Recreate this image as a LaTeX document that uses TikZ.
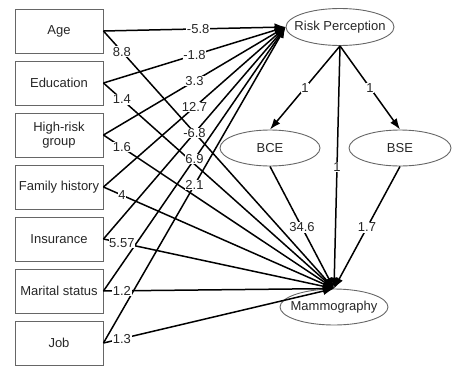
\documentclass[tikz,border=0pt]{standalone}
\usepackage{fontspec}
\setmainfont{Liberation Sans}
\usetikzlibrary{arrows.meta,shapes.geometric}
\begin{document}
\begin{tikzpicture}[x=1pt,y=-1pt,
  txt/.style={font=\fontsize{13}{14}\selectfont,text=black!85},
  box/.style={txt,draw=black!60,line width=0.9pt,minimum width=88pt,minimum height=44pt,inner sep=0pt,align=center},
  lat/.style={txt,draw=black!60,line width=0.9pt,ellipse,inner sep=-12pt},
  conn/.style={line width=1.5pt,-{Latex[length=11pt,width=8pt]}},
  lbl/.style={txt,fill=white,inner sep=0.6pt}
]
\useasboundingbox (0,0) rectangle (452,367);
% observed variables
\node[box] (age) at (59,31) {Age};
\node[box] (edu) at (59,83) {Education};
\node[box] (hr)  at (59,135) {High-risk\\group};
\node[box] (fam) at (59,187) {Family history};
\node[box] (ins) at (59,239) {Insurance};
\node[box] (mar) at (59,291) {Marital status};
\node[box] (job) at (59,343) {Job};
% latent variables
\node[lat,minimum width=108pt,minimum height=37pt] (rp)  at (340,27)  {Risk Perception};
\node[lat,minimum width=100pt,minimum height=36pt] (bce) at (270,148) {BCE};
\node[lat,minimum width=102pt,minimum height=36pt] (bse) at (400,148) {BSE};
\node[lat,minimum width=108pt,minimum height=36pt] (mam) at (334,307) {Mammography};
% connectors
\foreach \n in {age,edu,hr,fam,ins,mar,job}{
  \draw[conn] (\n.east) -- (rp.west);
  \draw[conn] (\n.east) -- (mam.north);
}
\draw[conn] (rp.south) -- (bce.north);
\draw[conn] (rp.south) -- (bse.north);
\draw[conn] (rp.south) -- (mam.north);
\draw[conn] (bce.south) -- (mam.north);
\draw[conn] (bse.south) -- (mam.north);
% labels
\foreach \n/\l/\p in {age/-5.8/0.52,edu/-1.8/0.5,hr/3.3/0.5,fam/12.7/0.5,ins/-6.8/0.5,mar/6.9/0.5,job/2.1/0.5}{
  \path (\n.east) -- node[lbl,pos=\p]{\l} (rp.west);
}
\foreach \n/\l in {age/8.8,edu/1.4,hr/1.6,fam/4,ins/5.57,mar/1.2,job/1.3}{
  \path (\n.east) -- node[lbl,pos=0.08]{\l} (mam.north);
}
\path (rp.south) -- node[lbl]{1} (bce.north);
\path (rp.south) -- node[lbl]{1} (bse.north);
\path (rp.south) -- node[lbl]{1} (mam.north);
\path (bce.south) -- node[lbl]{34.6} (mam.north);
\path (bse.south) -- node[lbl]{1.7} (mam.north);
\end{tikzpicture}
\end{document}
